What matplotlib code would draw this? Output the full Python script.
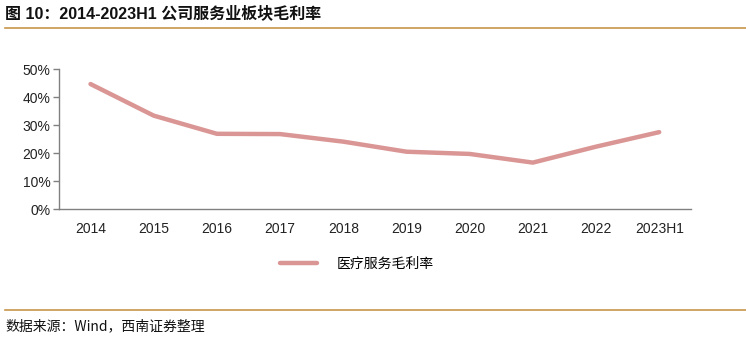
import matplotlib
matplotlib.use("Agg")
import matplotlib.pyplot as plt
from matplotlib.ticker import FuncFormatter

plt.rcParams['font.family'] = ['Liberation Sans', 'Noto Sans CJK SC', 'DejaVu Sans']

categories = ["2014", "2015", "2016", "2017", "2018", "2019", "2020", "2021", "2022", "2023H1"]
gross_margin = [44.8, 33.5, 27.0, 26.9, 24.2, 20.6, 19.8, 16.7, 22.4, 27.6]
series_name = "医疗服务毛利率"
yticks = [0, 10, 20, 30, 40, 50]
title = "图 10：2014-2023H1 公司服务业板块毛利率"
source = "数据来源：Wind，西南证券整理"

fig = plt.figure(figsize=(7.46, 3.39), dpi=100)
ax = fig.add_axes([0.079, 0.3826, 0.847, 0.4124])

x = list(range(len(categories)))
line, = ax.plot(x, gross_margin, color="#DA9694", linewidth=3.2, solid_capstyle="round",
                solid_joinstyle="round", label=series_name)
ax.set_xlim(-0.5, len(categories) - 0.5)
ax.set_ylim(0, 50)
ax.set_yticks(yticks)
ax.yaxis.set_major_formatter(FuncFormatter(lambda v, p: f"{int(v)}%"))
ax.set_xticks(x)
ax.set_xticklabels(categories)
for s in ["top", "right"]:
    ax.spines[s].set_visible(False)
for s in ["left", "bottom"]:
    ax.spines[s].set_color("#808080")
    ax.spines[s].set_linewidth(1.0)
ax.tick_params(axis="y", length=4, width=1, color="#808080", labelsize=10, pad=2, labelcolor="#222222")
ax.tick_params(axis="x", length=0, labelsize=10, pad=9, labelcolor="#222222")

# legend
fig.legend(handles=[line], labels=[series_name], loc="center", bbox_to_anchor=(0.478, 0.223),
           frameon=False, handlelength=2.7, handletextpad=1.4,
           prop={"family": ["Noto Sans CJK SC"], "size": 10})

# title
fig.text(0.007, 0.962, title, fontsize=11.5, fontweight="bold", ha="left", va="center",
         family=["Liberation Sans", "Noto Sans CJK SC"], color="#111111")
fig.add_artist(plt.Line2D([0.007, 1.0], [0.918, 0.918], color="#C8964B", linewidth=1.2))

# footer
fig.add_artist(plt.Line2D([0.007, 1.0], [0.085, 0.085], color="#C8964B", linewidth=1.2))
fig.text(0.007, 0.038, source, fontsize=10, style="italic", ha="left", va="center",
         family=["Noto Sans CJK SC", "Liberation Sans"], color="#111111")

fig.savefig("out.png", dpi=100)
